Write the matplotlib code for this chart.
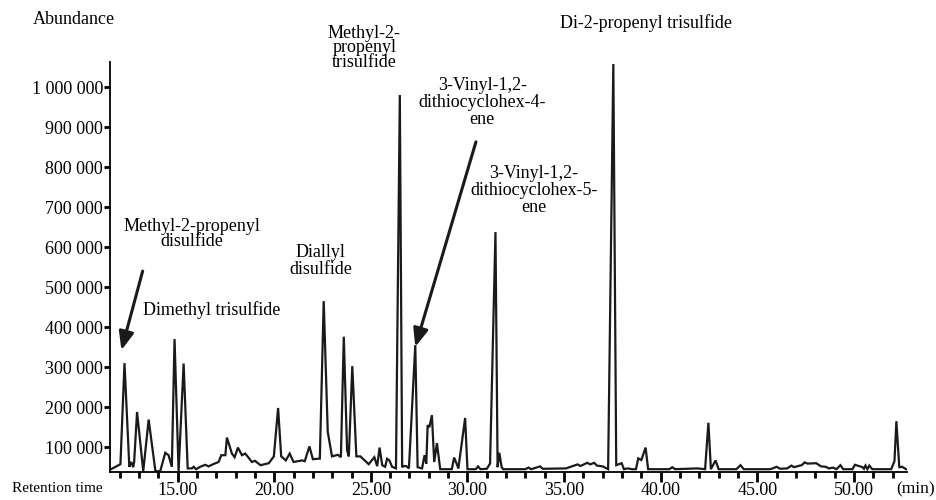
import numpy as np
import matplotlib
matplotlib.use("Agg")
import matplotlib.pyplot as plt
from matplotlib.ticker import FuncFormatter, MultipleLocator

plt.rcParams['font.family'] = ['Liberation Serif', 'DejaVu Serif']

# chromatogram: retention time (min) and abundance
rt = [11.55, 12.04, 12.25, 12.5, 12.6, 12.7, 12.75, 12.9, 13.22, 13.5, 13.85, 14.1, 14.36, 14.53, 14.7,
      14.84, 15.05, 15.31, 15.52, 15.74, 15.83, 15.95, 16.17, 16.43, 16.6, 16.86, 17.12, 17.26, 17.47,
      17.55, 17.81, 17.95, 18.12, 18.33, 18.5, 18.67, 18.84, 19.0, 19.29, 19.72, 19.98, 20.2, 20.36,
      20.6, 20.8, 21.0, 21.44, 21.58, 21.82, 22.0, 22.36, 22.56, 22.77, 22.99, 23.3, 23.45, 23.6, 23.77,
      23.86, 24.04, 24.25, 24.46, 24.89, 25.18, 25.33, 25.45, 25.59, 25.74, 25.84, 25.96, 26.1, 26.3,
      26.5, 26.62, 26.7, 26.84, 26.97, 27.3, 27.42, 27.65, 27.78, 27.87, 27.94, 28.03, 28.16, 28.28,
      28.42, 28.59, 29.19, 29.31, 29.45, 29.53, 29.88, 30.0, 30.43, 30.55, 30.67, 31.0, 31.17, 31.45,
      31.56, 31.65, 31.77, 31.85, 33.0, 33.16, 33.3, 33.76, 33.9, 35.1, 35.7, 35.85, 36.2, 36.35, 36.56,
      36.7, 37.0, 37.28, 37.55, 37.7, 37.98, 38.1, 38.3, 38.5, 38.72, 38.84, 39.0, 39.22, 39.35, 40.45,
      40.6, 40.75, 41.9, 42.3, 42.47, 42.6, 42.84, 43.0, 43.92, 44.13, 44.3, 45.65, 45.8, 45.99, 46.2,
      46.55, 46.77, 46.9, 47.2, 47.3, 47.45, 47.6, 48.05, 48.3, 48.55, 48.7, 48.93, 49.1, 49.3, 49.45,
      49.93, 50.05, 50.45, 50.52, 50.6, 50.7, 50.8, 50.95, 51.93, 52.1, 52.2, 52.35, 52.5, 52.7]
abundance = [45000, 57500, 310000, 51000, 63000, 50000, 63000, 188000, 40000, 169000, 40000, 40000, 86000,
             80000, 51000, 370000, 40000, 309000, 47000, 47000, 51000, 45000, 51000, 56000, 52000, 58000,
             63000, 80000, 80000, 124000, 84000, 75000, 99000, 80000, 84000, 74000, 63000, 66000, 55000,
             60000, 77000, 198000, 77000, 67000, 84000, 63000, 67000, 65000, 102000, 70000, 71500, 465000,
             138000, 77000, 81000, 75000, 376000, 92000, 77000, 302500, 77000, 77000, 57500, 75000, 52500,
             99000, 55000, 51000, 71000, 67000, 51000, 47000, 980000, 50000, 53000, 52500, 47000, 355000,
             50000, 47000, 80000, 59000, 155000, 150000, 180000, 63000, 110000, 45000, 45000, 74000, 57500,
             47000, 173000, 45000, 45000, 52000, 45000, 46000, 59000, 637500, 50000, 86000, 50000, 45000,
             45000, 49000, 45000, 52000, 46000, 47000, 57000, 53000, 61000, 57000, 61000, 54000, 52000,
             45000, 1057500, 55000, 60000, 45000, 47000, 45000, 45000, 72000, 68000, 99000, 45000, 45000,
             50000, 45000, 47000, 45000, 161000, 45000, 67000, 45000, 45000, 55000, 45000, 45000, 47000,
             51000, 46000, 47000, 54000, 50000, 54000, 55000, 62000, 59000, 60000, 52000, 51000, 47000,
             49000, 45000, 55000, 45000, 45000, 56000, 50000, 46000, 54000, 45000, 54000, 45000, 45000,
             65000, 165000, 50000, 51000, 45000]

# peak labels: text, position, line spacing
labels = ["Methyl-2-propenyl\ndisulfide", "Dimethyl trisulfide", "Diallyl\ndisulfide",
          "Methyl-2-\npropenyl\ntrisulfide", "3-Vinyl-1,2-\ndithiocyclohex-4-\nene",
          "3-Vinyl-1,2-\ndithiocyclohex-5-\nene", "Di-2-propenyl trisulfide"]
label_x = [15.72, 16.76, 22.39, 24.66, 30.76, 33.45, 39.24]
label_y = [632500, 442500, 565000, 1097500, 962500, 742500, 1160000]
label_ls = [0.8, 1.0, 1.05, 0.8, 1.0, 1.0, 1.0]

# arrows: (tail, tip)
arrows = [((13.19, 540000), (12.09, 342500)),
          ((30.44, 863000), (27.30, 350750))]

fig = plt.figure(figsize=(9.37, 5.0), dpi=100)
ax = fig.add_axes([0.1174, 0.056, 0.8506, 0.82])

ax.plot(rt, abundance, color='#1a1a1a', lw=1.6, solid_joinstyle='miter')

ax.set_xlim(11.5, 52.75)
ax.set_ylim(38000, 1062500)

ax.spines['top'].set_visible(False)
ax.spines['right'].set_visible(False)
ax.spines['left'].set_linewidth(1.3)
ax.spines['bottom'].set_linewidth(1.3)

ax.set_yticks(np.arange(100000, 1000001, 100000))
ax.yaxis.set_major_formatter(FuncFormatter(lambda v, p: '{:,}'.format(int(v)).replace(',', ' ')))
ax.xaxis.set_major_locator(MultipleLocator(5))
ax.xaxis.set_minor_locator(MultipleLocator(1))
ax.set_xticks(np.arange(15, 51, 5))
ax.xaxis.set_major_formatter(FuncFormatter(lambda v, p: '%.2f' % v))
ax.tick_params(axis='y', length=4, width=2, pad=1, labelsize=13)
ax.tick_params(axis='x', which='major', length=7, width=2, pad=0, labelsize=13)
ax.tick_params(axis='x', which='minor', length=4, width=2)

for txt, x, y, ls in zip(labels, label_x, label_y, label_ls):
    ax.text(x, y, txt, ha='center', va='center', fontsize=13, linespacing=ls, clip_on=False)

for tail, tip in arrows:
    ax.annotate('', xy=tip, xytext=tail,
                arrowprops=dict(arrowstyle='-|>,head_length=1.1,head_width=0.45',
                                color='#1a1a1a', lw=2.2, shrinkA=0, shrinkB=0))

fig.text(33 / 937, 1 - 19 / 500, 'Abundance', fontsize=13, ha='left', va='center')
fig.text(12 / 937, 1 - 489 / 500, 'Retention time', fontsize=11, ha='left', va='center')
fig.text(935 / 937, 1 - 489 / 500, '(min)', fontsize=12.5, ha='right', va='center')

fig.savefig('out.png', dpi=100)
